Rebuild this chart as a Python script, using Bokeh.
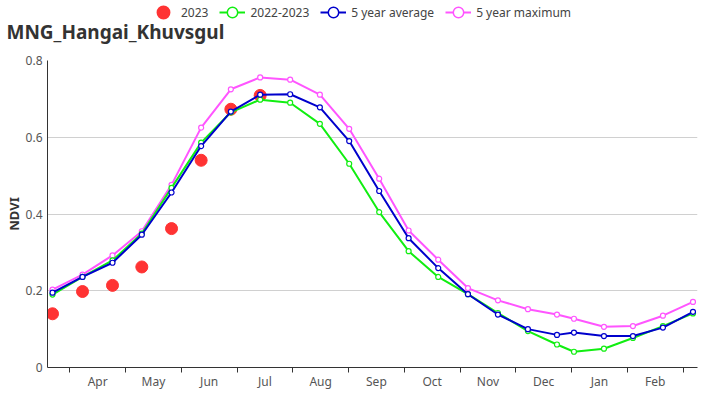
from bokeh.plotting import figure
from bokeh.models import Range1d, FixedTicker, LinearAxis, Legend, LegendItem, Label
from bokeh.layouts import column
from bokeh.embed import file_html
from bokeh.resources import INLINE

# position of each 16-day period along the month axis (0 = start of Apr band)
period_pos = [-0.31, 0.228, 0.766, 1.292, 1.825, 2.356, 2.889, 3.415, 3.953, 4.486,
              5.012, 5.550, 6.078, 6.609, 7.142, 7.680, 8.218, 8.739, 9.044, 9.582,
              10.102, 10.640, 11.179]

ndvi_2023 = [0.140, 0.198, 0.214, 0.262, 0.362, 0.540, 0.673, 0.709]

ndvi_2022_2023 = [0.190, 0.236, 0.279, 0.349, 0.468, 0.586, 0.665, 0.698, 0.690, 0.635,
                  0.531, 0.405, 0.303, 0.236, 0.191, 0.142, 0.095, 0.060, 0.041, 0.049,
                  0.077, 0.108, 0.141]

ndvi_5yr_avg = [0.195, 0.236, 0.273, 0.346, 0.456, 0.577, 0.667, 0.711, 0.712, 0.678,
                0.590, 0.460, 0.337, 0.259, 0.191, 0.138, 0.100, 0.085, 0.091, 0.082,
                0.082, 0.104, 0.145]

ndvi_5yr_max = [0.203, 0.242, 0.292, 0.355, 0.476, 0.625, 0.725, 0.756, 0.750, 0.711,
                0.622, 0.492, 0.357, 0.281, 0.207, 0.175, 0.152, 0.138, 0.127, 0.106,
                0.108, 0.135, 0.171]

months = ["Apr", "May", "Jun", "Jul", "Aug", "Sep", "Oct", "Nov", "Dec", "Jan", "Feb"]
month_bounds = list(range(len(months) + 1))
month_mids = [i + 0.5 for i in range(len(months))]
y_ticks = [0, 0.2, 0.4, 0.6, 0.8]

FONT = "Noto Sans"
red = "#ff3333"
green = "#11ee11"
blue = "#0000cc"
magenta = "#ff55ff"
NAN = float("nan")

# ---------------- header: title + legend ----------------
top = figure(width=726, height=50, output_backend="svg", toolbar_location=None,
             x_range=Range1d(0, 1), y_range=Range1d(0, 1),
             x_axis_type=None, y_axis_type=None, min_border=0)
top.outline_line_color = None
top.xgrid.visible = False
top.ygrid.visible = False
if hasattr(top, "frame_align"):
    top.frame_align = False

top.add_layout(Label(x=6, y=19, x_units="screen", y_units="screen",
                     text="MNG_Hangai_Khuvsgul", text_font=FONT, text_font_size="19px",
                     text_font_style="bold", text_color="#333333",
                     text_baseline="middle", text_align="left"))

# legend keys (single NaN point, never visible in the frame)
lg_red = top.scatter([NAN], [NAN], size=10, fill_color=red, line_color=red, line_width=3.5)

def key(color):
    ln = top.line([NAN], [NAN], line_color=color, line_width=2)
    mk = top.scatter([NAN], [NAN], size=10, fill_color="white", line_color=color, line_width=1.5)
    return [ln, mk]

legend = Legend(items=[
    LegendItem(label="2023", renderers=[lg_red]),
    LegendItem(label="2022-2023", renderers=key(green)),
    LegendItem(label="5 year average", renderers=key(blue)),
    LegendItem(label="5 year maximum", renderers=key(magenta)),
], orientation="horizontal", location=(150, 23))
legend.border_line_color = None
legend.background_fill_alpha = 0
legend.label_text_font = FONT
legend.label_text_font_size = "12px"
legend.label_text_color = "#444444"
legend.glyph_width = 26
legend.glyph_height = 30
legend.label_height = 30
legend.spacing = 11
legend.label_standoff = 5
legend.padding = 0
legend.margin = 0
top.add_layout(legend, "center")

# ---------------- main chart ----------------
p = figure(width=726, height=350, output_backend="svg", toolbar_location=None,
           x_range=Range1d(-0.40, 11.26), y_range=Range1d(0, 0.8),
           min_border_left=47, min_border_right=29, min_border_bottom=33, min_border_top=10,
           x_axis_type=None)
p.outline_line_color = None
p.background_fill_color = "white"

# x axis: labels at month centres, ticks at month boundaries (minor ticks)
xa = LinearAxis(ticker=FixedTicker(ticks=month_mids, minor_ticks=month_bounds))
xa.major_label_overrides = {m: name for m, name in zip(month_mids, months)}
xa.axis_line_color = "#333333"
xa.major_tick_line_color = None
xa.major_tick_out = 0
xa.major_tick_in = 0
xa.minor_tick_line_color = "#333333"
xa.minor_tick_out = 5
xa.minor_tick_in = 0
xa.major_label_standoff = 0
xa.major_label_text_font = FONT
xa.major_label_text_font_size = "12px"
xa.major_label_text_color = "#555555"
p.add_layout(xa, "below")

ya = p.yaxis[0]
ya.ticker = FixedTicker(ticks=y_ticks, minor_ticks=[])
ya.major_label_overrides = {0: "0", 0.2: "0.2", 0.4: "0.4", 0.6: "0.6", 0.8: "0.8"}
ya.major_tick_out = 0
ya.major_tick_in = 0
ya.major_label_standoff = 5
ya.axis_line_color = "#333333"
ya.major_label_text_font = FONT
ya.major_label_text_font_size = "12px"
ya.major_label_text_color = "#555555"
ya.axis_label = "NDVI"
ya.axis_label_text_font = FONT
ya.axis_label_text_font_size = "13px"
ya.axis_label_text_font_style = "bold"
ya.axis_label_text_color = "#333333"
ya.axis_label_standoff = 0

p.xgrid.visible = False
p.ygrid.grid_line_color = "#d0d0d0"
p.ygrid.grid_line_width = 1

p.scatter(period_pos[:len(ndvi_2023)], ndvi_2023, size=12, color=red, line_color=red)

def series(vals, color):
    p.line(period_pos, vals, line_color=color, line_width=2)
    p.scatter(period_pos, vals, size=5, fill_color="white", line_color=color, line_width=1.2)

series(ndvi_5yr_max, magenta)
series(ndvi_2022_2023, green)
series(ndvi_5yr_avg, blue)

open("out.html", "w").write(file_html(column(top, p), INLINE))
